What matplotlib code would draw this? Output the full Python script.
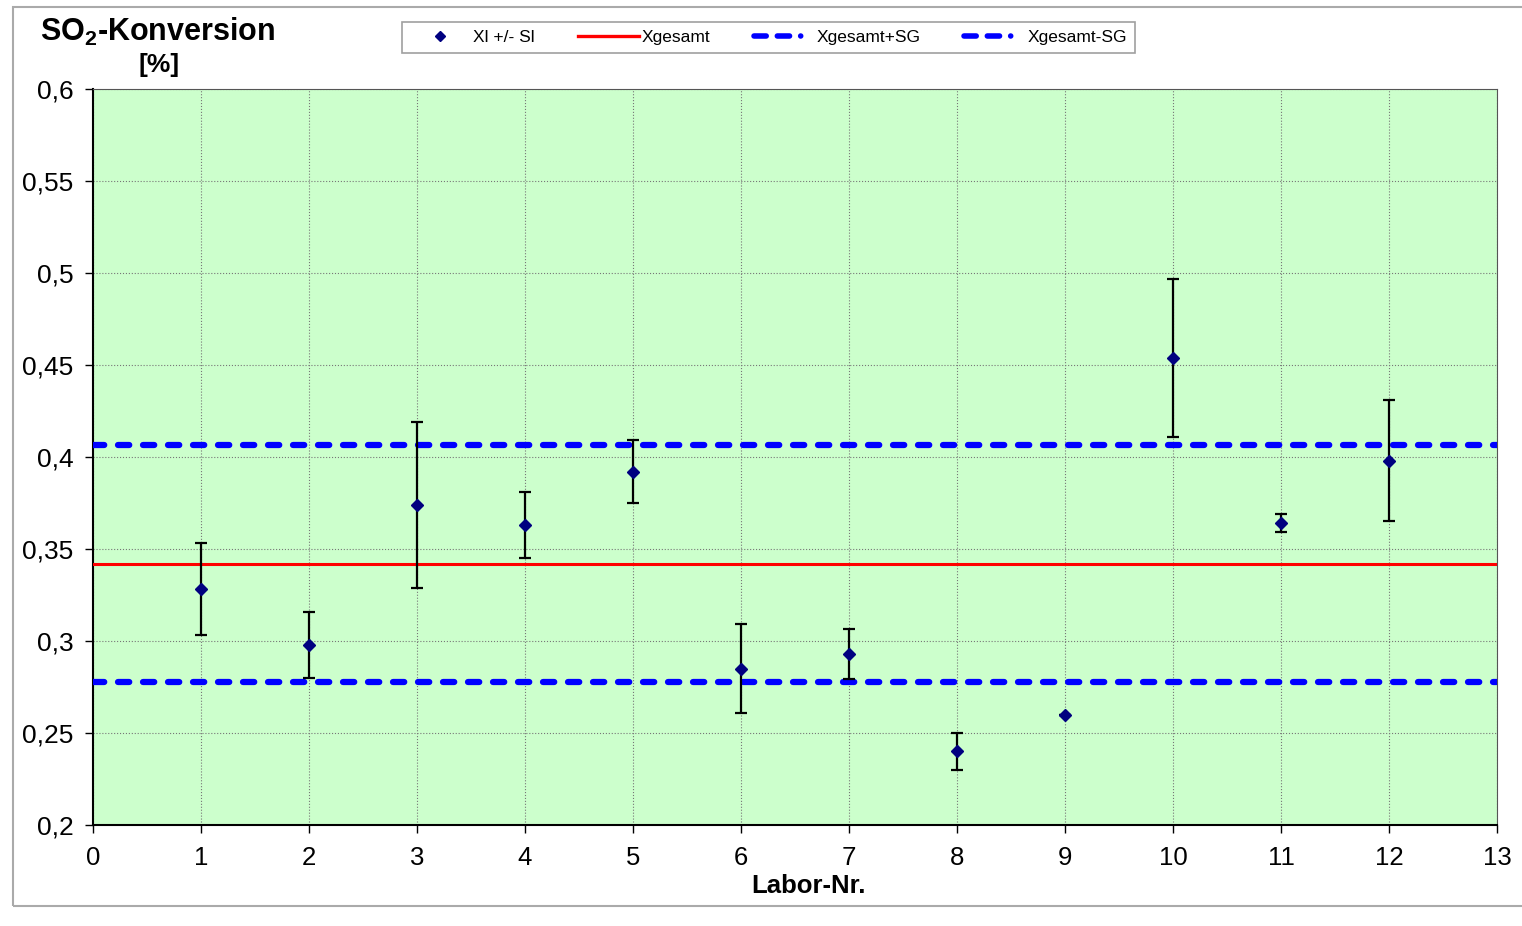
import matplotlib
matplotlib.use("Agg")
import matplotlib.pyplot as plt
from matplotlib.lines import Line2D
from matplotlib.patches import Rectangle
from matplotlib.ticker import FuncFormatter, MultipleLocator

plt.rcParams['font.family'] = ['Liberation Sans', 'DejaVu Sans']
plt.rcParams['mathtext.fontset'] = 'custom'
plt.rcParams['mathtext.rm'] = 'Liberation Sans'
plt.rcParams['mathtext.bf'] = 'Liberation Sans:bold'

# Labor-Nr., Mittelwerte und Standardabweichungen
labs = [1, 2, 3, 4, 5, 6, 7, 8, 9, 10, 11, 12]
xi = [0.328, 0.298, 0.374, 0.363, 0.392, 0.285, 0.293, 0.240, 0.260, 0.454, 0.364, 0.398]
si = [0.025, 0.018, 0.045, 0.018, 0.017, 0.024, 0.0135, 0.010, 0.0, 0.043, 0.005, 0.033]
x_gesamt = 0.342
sg = 0.0645

fig = plt.figure(figsize=(15.22, 9.26), dpi=100)
ax = fig.add_axes([0.0611, 0.1091, 0.9225, 0.7948])
ax.set_facecolor('#ccffcc')

ax.axhline(x_gesamt, color='#ff0000', lw=2.2, zorder=3)
ax.axhline(x_gesamt + sg, color='#0000ff', lw=4.5, dashes=(1.8, 2.2),
           dash_capstyle='round', zorder=3)
ax.axhline(x_gesamt - sg, color='#0000ff', lw=4.5, dashes=(1.8, 2.2),
           dash_capstyle='round', zorder=3)
ax.errorbar(labs, xi, yerr=si, fmt='D', color='#000080', ms=6.5,
            ecolor='black', elinewidth=1.6, capsize=4, capthick=1.6, zorder=4)

ax.set_xlim(0, 13)
ax.set_ylim(0.2, 0.6)
ax.xaxis.set_major_locator(MultipleLocator(1))
ax.yaxis.set_major_locator(MultipleLocator(0.05))
ax.yaxis.set_major_formatter(FuncFormatter(lambda v, p: ('%g' % round(v, 3)).replace('.', ',')))
ax.grid(True, color='#777777', lw=0.8, ls=':')
ax.set_axisbelow(True)
ax.tick_params(axis='y', labelsize=19, length=6, width=1, direction='out', pad=8)
ax.tick_params(axis='x', labelsize=18.5, length=6, width=1, direction='out', pad=9)
for s in ['left', 'bottom']:
    ax.spines[s].set_linewidth(1.5)
for s in ['top', 'right']:
    ax.spines[s].set_color('#555555')

fig.text(0.5315, 0.0432, 'Labor-Nr.', fontsize=18.5, fontweight='bold',
         ha='center', va='center')
fig.text(0.1038, 0.9654, r'SO$_\mathbf{2}$-Konversion', fontsize=22, fontweight='bold',
         ha='center', va='center')
fig.text(0.1045, 0.930, '[%]', fontsize=19, fontweight='bold', ha='center', va='center')

blue_pat = (2.2, 2.0, 2.2, 2.0, 0.01, 30)
handles = [
    Line2D([], [], ls='none', marker='D', color='#000080', ms=5.5),
    Line2D([], [], color='#ff0000', lw=2.4),
    Line2D([], [], color='#0000ff', lw=4, dashes=blue_pat, dash_capstyle='round'),
    Line2D([], [], color='#0000ff', lw=4, dashes=blue_pat, dash_capstyle='round'),
]
labels = ['Xl +/- Sl', 'Xgesamt', 'Xgesamt+SG', 'Xgesamt-SG']
leg = fig.legend(handles, labels, loc='center', bbox_to_anchor=(0.505, 0.9595),
                 ncol=4, fontsize=12.5, frameon=True, fancybox=False, shadow=False,
                 handlelength=3.5, columnspacing=2.5, handletextpad=0.15,
                 borderpad=0.45)
leg.get_frame().set_edgecolor('#888888')
leg.get_frame().set_linewidth(1.2)

fig.patches.append(Rectangle((0.0085, 0.022), 1.1, 0.97, transform=fig.transFigure,
                             fill=False, edgecolor='#aaaaaa', lw=1.5, figure=fig))

plt.savefig('out.png', dpi=100)
